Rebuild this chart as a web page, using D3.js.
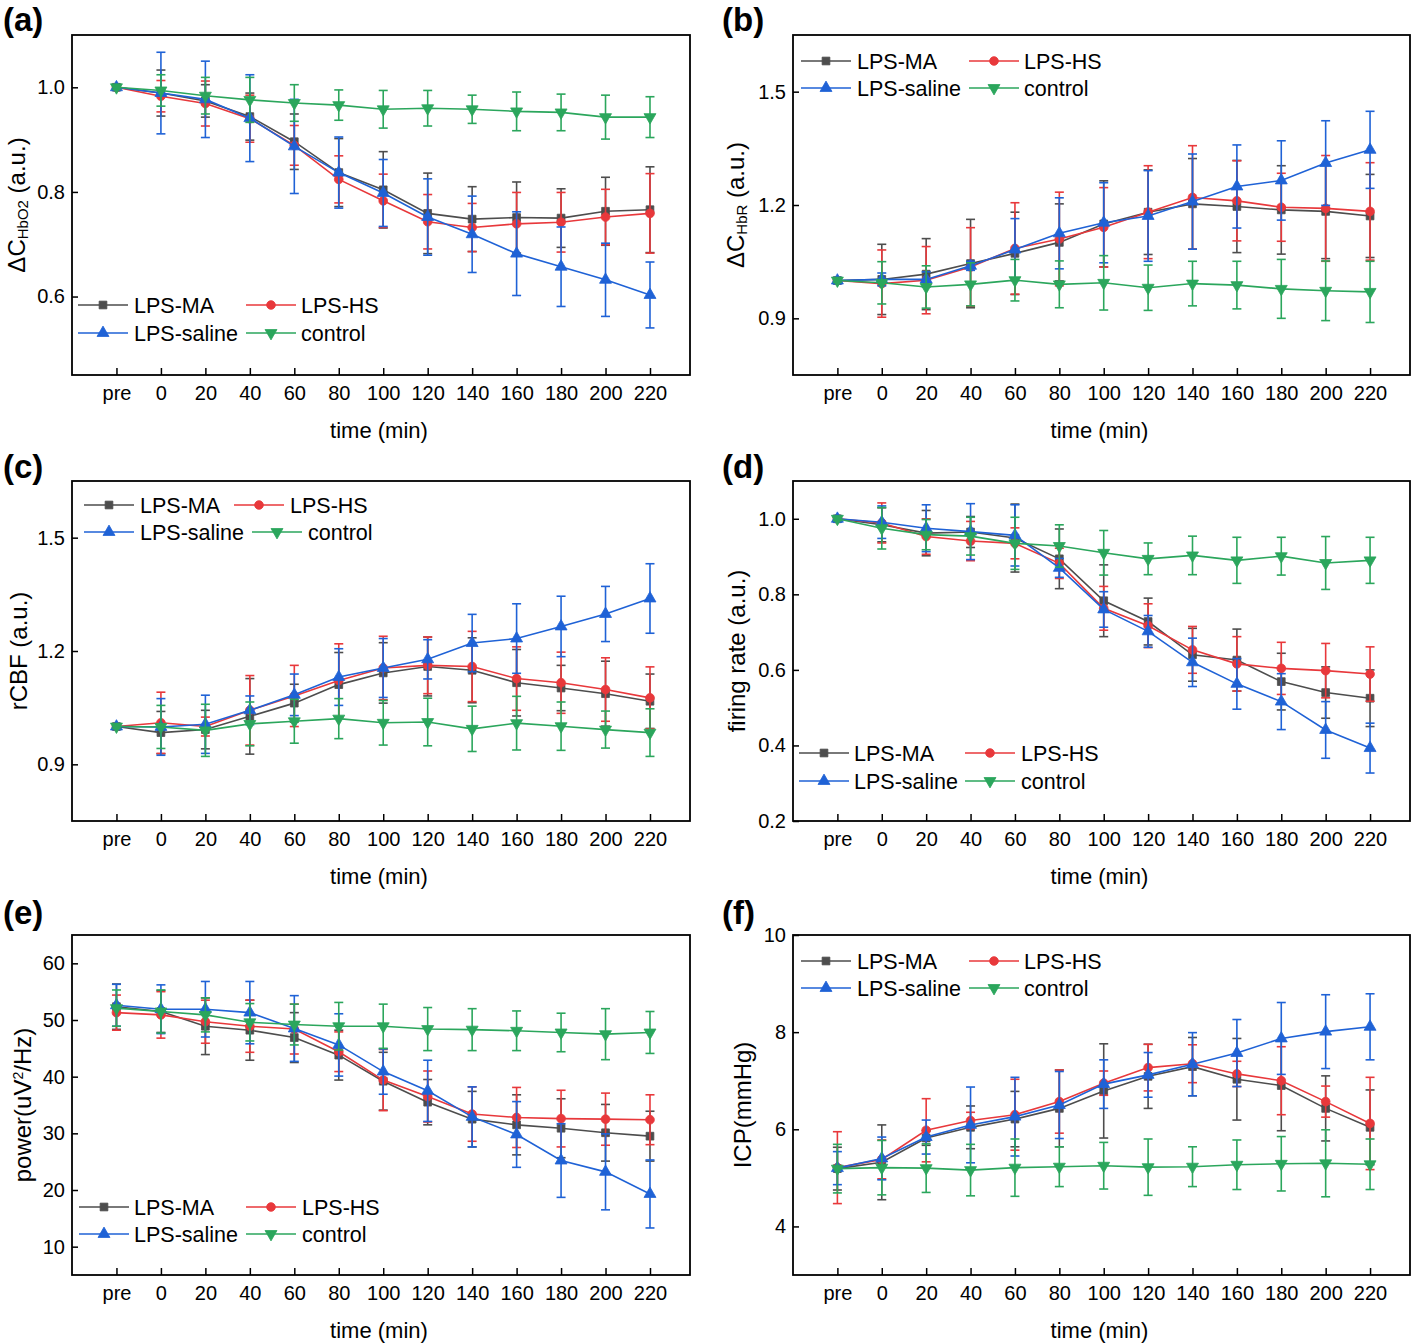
<!DOCTYPE html>
<html><head><meta charset="utf-8">
<script src="https://cdn.jsdelivr.net/npm/d3@7"></script>
<style>
body{margin:0;background:#fff;}
text{font-family:"Liberation Sans",Arial,sans-serif;fill:#000;}
</style></head>
<body><svg id="c" width="1416" height="1343"></svg>
<script>
const xLabels = ["pre","0","20","40","60","80","100","120","140","160","180","200","220"];
const seriesNames = ["LPS-MA","LPS-HS","LPS-saline","control"];

// (a) ΔC HbO2
const a_MA = [1.0,0.989,0.974,0.944,0.896,0.837,0.804,0.759,0.748,0.751,0.750,0.763,0.766];
const a_MA_sd = [0.003,0.044,0.031,0.045,0.053,0.065,0.073,0.077,0.062,0.068,0.056,0.065,0.082];
const a_HS = [1.0,0.983,0.969,0.940,0.889,0.824,0.783,0.743,0.732,0.739,0.742,0.752,0.759];
const a_HS_sd = [0.003,0.030,0.043,0.045,0.038,0.045,0.051,0.052,0.046,0.060,0.057,0.053,0.076];
const a_SAL = [1.0,0.989,0.977,0.941,0.887,0.837,0.798,0.752,0.719,0.682,0.657,0.632,0.603];
const a_SAL_sd = [0.004,0.078,0.073,0.083,0.090,0.068,0.064,0.073,0.073,0.080,0.076,0.070,0.063];
const a_CON = [1.0,0.994,0.984,0.976,0.970,0.966,0.958,0.960,0.958,0.954,0.952,0.943,0.943];
const a_CON_sd = [0.004,0.030,0.035,0.043,0.035,0.029,0.036,0.034,0.027,0.037,0.035,0.042,0.039];

// (b) ΔC HbR
const b_MA = [1.0,1.003,1.017,1.045,1.072,1.101,1.150,1.181,1.203,1.196,1.187,1.183,1.171];
const b_MA_sd = [0.005,0.093,0.094,0.117,0.109,0.102,0.114,0.112,0.120,0.122,0.117,0.125,0.110];
const b_HS = [1.0,0.992,1.001,1.036,1.085,1.110,1.141,1.181,1.220,1.211,1.194,1.191,1.183];
const b_HS_sd = [0.005,0.089,0.089,0.104,0.121,0.124,0.105,0.123,0.137,0.106,0.090,0.140,0.129];
const b_SAL = [1.0,1.003,1.003,1.039,1.082,1.125,1.153,1.171,1.209,1.249,1.265,1.311,1.346];
const b_SAL_sd = [0.008,0.017,0.020,0.012,0.082,0.094,0.106,0.120,0.126,0.110,0.105,0.112,0.102];
const b_CON = [1.0,0.994,0.983,0.990,1.001,0.990,0.994,0.981,0.992,0.988,0.978,0.973,0.970];
const b_CON_sd = [0.005,0.056,0.056,0.057,0.055,0.062,0.072,0.060,0.059,0.063,0.078,0.079,0.081];

// (c) rCBF
const c_MA = [1.0,0.984,0.992,1.027,1.062,1.111,1.142,1.159,1.149,1.116,1.102,1.087,1.067];
const c_MA_sd = [0.005,0.056,0.051,0.100,0.050,0.085,0.080,0.078,0.086,0.088,0.060,0.086,0.072];
const c_HS = [1.0,1.010,1.000,1.043,1.081,1.122,1.155,1.162,1.159,1.127,1.116,1.098,1.076];
const c_HS_sd = [0.005,0.081,0.025,0.092,0.081,0.097,0.084,0.075,0.093,0.084,0.081,0.084,0.082];
const c_SAL = [1.0,0.999,1.006,1.043,1.084,1.131,1.155,1.178,1.221,1.233,1.265,1.298,1.339];
const c_SAL_sd = [0.005,0.075,0.077,0.038,0.055,0.075,0.078,0.052,0.076,0.092,0.080,0.073,0.092];
const c_CON = [1.0,0.999,0.990,1.007,1.014,1.021,1.010,1.012,0.994,1.009,1.001,0.992,0.984];
const c_CON_sd = [0.005,0.057,0.069,0.058,0.058,0.053,0.059,0.063,0.060,0.071,0.064,0.049,0.063];

// (d) firing rate
const d_MA = [1.0,0.984,0.962,0.965,0.949,0.894,0.783,0.728,0.640,0.626,0.569,0.540,0.525];
const d_MA_sd = [0.005,0.045,0.060,0.041,0.090,0.079,0.095,0.062,0.070,0.082,0.075,0.068,0.075];
const d_HS = [1.0,0.989,0.953,0.941,0.935,0.882,0.763,0.717,0.653,0.616,0.604,0.598,0.589];
const d_HS_sd = [0.005,0.053,0.047,0.052,0.041,0.040,0.058,0.058,0.062,0.072,0.069,0.072,0.072];
const d_SAL = [1.0,0.991,0.975,0.966,0.956,0.870,0.760,0.702,0.620,0.563,0.516,0.441,0.393];
const d_SAL_sd = [0.008,0.043,0.062,0.074,0.081,0.025,0.047,0.042,0.064,0.067,0.074,0.075,0.066];
const d_CON = [1.0,0.975,0.958,0.954,0.935,0.928,0.910,0.894,0.903,0.890,0.901,0.883,0.890];
const d_CON_sd = [0.005,0.055,0.040,0.050,0.069,0.056,0.059,0.042,0.051,0.061,0.050,0.070,0.061];

// (e) power
const e_MA = [52.35,51.5,48.9,48.2,46.9,43.8,39.2,35.5,32.5,31.5,30.9,30.1,29.5];
const e_MA_sd = [4.0,3.7,5.0,5.3,4.4,4.4,5.1,4.0,4.9,5.3,5.2,5.0,4.4];
const e_HS = [51.3,50.9,49.7,48.9,48.4,44.4,39.4,36.5,33.4,32.8,32.6,32.5,32.4];
const e_HS_sd = [3.1,4.1,3.8,4.6,4.4,3.5,5.4,4.5,4.8,5.3,5.0,4.6,4.4];
const e_SAL = [52.6,51.9,51.9,51.3,48.5,45.6,40.9,37.5,32.9,29.8,25.2,23.2,19.3];
const e_SAL_sd = [3.7,4.3,4.9,5.5,5.8,5.5,4.0,5.4,5.3,5.8,6.5,6.7,6.0];
const e_CON = [52.1,51.5,50.9,49.6,49.2,48.9,48.9,48.4,48.3,48.1,47.8,47.5,47.8];
const e_CON_sd = [3.2,3.8,3.0,3.3,3.6,4.2,3.9,3.8,3.7,3.5,3.4,4.5,3.7];

// (f) ICP
const f_MA = [5.19,5.32,5.82,6.04,6.21,6.43,6.79,7.09,7.29,7.03,6.90,6.43,6.04];
const f_MA_sd = [0.44,0.77,0.15,0.44,0.57,0.79,0.97,0.66,0.60,0.84,0.93,0.67,0.77];
const f_HS = [5.21,5.38,5.98,6.18,6.30,6.57,6.95,7.27,7.35,7.14,7.00,6.57,6.12];
const f_HS_sd = [0.74,0.40,0.65,0.17,0.73,0.65,0.25,0.48,0.39,0.26,0.70,0.32,0.95];
const f_SAL = [5.20,5.40,5.84,6.09,6.26,6.50,6.93,7.12,7.34,7.57,7.87,8.01,8.11];
const f_SAL_sd = [0.34,0.44,0.35,0.78,0.81,0.69,0.50,0.46,0.65,0.69,0.74,0.76,0.68];
const f_CON = [5.19,5.21,5.20,5.16,5.21,5.23,5.25,5.22,5.23,5.27,5.29,5.30,5.28];
const f_CON_sd = [0.50,0.56,0.50,0.53,0.59,0.41,0.48,0.58,0.41,0.51,0.56,0.69,0.52];

const yTicks_a = [0.6,0.8,1.0];
const yTicks_b = [0.9,1.2,1.5];
const yTicks_c = [0.9,1.2,1.5];
const yTicks_d = [0.2,0.4,0.6,0.8,1.0];
const yTicks_e = [10,20,30,40,50,60];
const yTicks_f = [4,6,8,10];

const colors = ["#4d4d4d","#e8383b","#1f62d6","#2ba65c"];
const symbols = [d3.symbolSquare, d3.symbolCircle, d3.symbolTriangle, d3.symbolTriangle];
const symSizes = [60, 60, 62, 62];
const symRot = [0,0,0,180];

const L = 72, R = 690, L2 = 793, R2 = 1410;
const panels = [
  {lab:"(a)", lx:3, ly:31, x0:L, x1:R, y0:35, y1:375, dom:[0.45,1.1], ticks:yTicks_a, fmt:".1f",
   data:[[a_MA,a_MA_sd],[a_HS,a_HS_sd],[a_SAL,a_SAL_sd],[a_CON,a_CON_sd]],
   title:[["ΔC",24,0],["HbO2",15,3],[" (a.u.)",24,-3]], tx:25,
   leg:{c1:78,t1:134,c2:246,t2:301,c2b:246,t2b:301,r1:305,r2:333}},
  {lab:"(b)", lx:722, ly:31, x0:L2, x1:R2, y0:35, y1:375, dom:[0.75,1.65], ticks:yTicks_b, fmt:".1f",
   data:[[b_MA,b_MA_sd],[b_HS,b_HS_sd],[b_SAL,b_SAL_sd],[b_CON,b_CON_sd]],
   title:[["ΔC",24,0],["HbR",15,3],[" (a.u.)",24,-3]], tx:744,
   leg:{c1:801,t1:857,c2:969,t2:1024,c2b:969,t2b:1024,r1:61,r2:88}},
  {lab:"(c)", lx:3, ly:478, x0:L, x1:R, y0:481, y1:821, dom:[0.75,1.65], ticks:yTicks_c, fmt:".1f",
   data:[[c_MA,c_MA_sd],[c_HS,c_HS_sd],[c_SAL,c_SAL_sd],[c_CON,c_CON_sd]],
   title:[["rCBF (a.u.)",24,0]], tx:27,
   leg:{c1:84,t1:140,c2:234,t2:290,c2b:252,t2b:308,r1:505,r2:532}},
  {lab:"(d)", lx:722, ly:478, x0:L2, x1:R2, y0:481, y1:821, dom:[0.2,1.1], ticks:yTicks_d, fmt:".1f",
   data:[[d_MA,d_MA_sd],[d_HS,d_HS_sd],[d_SAL,d_SAL_sd],[d_CON,d_CON_sd]],
   title:[["firing rate (a.u.)",24,0]], tx:745,
   leg:{c1:799,t1:854,c2:965,t2:1021,c2b:965,t2b:1021,r1:753,r2:781}},
  {lab:"(e)", lx:3, ly:924, x0:L, x1:R, y0:935, y1:1275, dom:[5,65], ticks:yTicks_e, fmt:"d",
   data:[[e_MA,e_MA_sd],[e_HS,e_HS_sd],[e_SAL,e_SAL_sd],[e_CON,e_CON_sd]],
   title:[["power(uV",24,0],["2",14,-8],["/Hz)",24,8]], tx:31,
   leg:{c1:79,t1:134,c2:246,t2:302,c2b:246,t2b:302,r1:1207,r2:1234}},
  {lab:"(f)", lx:722, ly:924, x0:L2, x1:R2, y0:935, y1:1275, dom:[3,10], ticks:yTicks_f, fmt:"d",
   data:[[f_MA,f_MA_sd],[f_HS,f_HS_sd],[f_SAL,f_SAL_sd],[f_CON,f_CON_sd]],
   title:[["ICP(mmHg)",24,0]], tx:751,
   leg:{c1:801,t1:857,c2:969,t2:1024,c2b:969,t2b:1024,r1:961,r2:988}}
];

const svg = d3.select("#c");

function marker(g, i, x, y){
  g.append("path")
   .attr("d", d3.symbol().type(symbols[i]).size(symSizes[i])())
   .attr("transform", `translate(${x},${y}) rotate(${symRot[i]})`)
   .attr("fill", colors[i]).attr("stroke", colors[i]).attr("stroke-width",0.8);
}

panels.forEach(p => {
  const g = svg.append("g");
  const x = d3.scaleLinear().domain([-1, 12.9]).range([p.x0, p.x1]);
  const y = d3.scaleLinear().domain(p.dom).range([p.y1, p.y0]);

  // panel label
  svg.append("text").attr("x", p.lx).attr("y", p.ly)
    .attr("font-size", 33).attr("font-weight","bold").text(p.lab);

  // axes
  const xa = g.append("g").attr("transform", `translate(0,${p.y1})`)
    .call(d3.axisBottom(x).tickValues(d3.range(13)).tickFormat(i => xLabels[i])
      .tickSizeInner(-7).tickSizeOuter(0).tickPadding(11));
  xa.select(".domain").remove();
  xa.selectAll("line").attr("stroke","#000").attr("stroke-width",1.5);
  xa.selectAll("text").attr("font-size",20).attr("font-family",'"Liberation Sans",Arial,sans-serif');

  const ya = g.append("g").attr("transform", `translate(${p.x0},0)`)
    .call(d3.axisLeft(y).tickValues(p.ticks).tickFormat(d3.format(p.fmt))
      .tickSizeInner(-6).tickSizeOuter(0).tickPadding(7));
  ya.select(".domain").remove();
  ya.selectAll("line").attr("stroke","#000").attr("stroke-width",1.5);
  ya.selectAll("text").attr("font-size",20).attr("font-family",'"Liberation Sans",Arial,sans-serif');

  // frame
  g.append("rect").attr("x",p.x0).attr("y",p.y0).attr("width",p.x1-p.x0).attr("height",p.y1-p.y0)
    .attr("fill","none").attr("stroke","#000").attr("stroke-width",1.8);

  // x title
  g.append("text").attr("x",(p.x0+p.x1)/2 - 2).attr("y",p.y1+63)
    .attr("text-anchor","middle").attr("font-size",22).text("time (min)");

  // y title (baseline at tx)
  const yt = g.append("text")
    .attr("transform",`translate(${p.tx},${(p.y0+p.y1)/2}) rotate(-90)`)
    .attr("text-anchor","middle");
  p.title.forEach(t => {
    yt.append("tspan").attr("font-size",t[1]).attr("dy",t[2]).text(t[0]);
  });

  // series
  p.data.forEach((s, si) => {
    const vals = s[0], sd = s[1];
    const sg = g.append("g");
    vals.forEach((v, i) => {
      const cx = x(i), yt0 = y(v + sd[i]), yb0 = y(v - sd[i]);
      sg.append("line").attr("x1",cx).attr("x2",cx).attr("y1",yt0).attr("y2",yb0)
        .attr("stroke",colors[si]).attr("stroke-width",1.6);
      [yt0,yb0].forEach(yy => sg.append("line").attr("x1",cx-4.5).attr("x2",cx+4.5)
        .attr("y1",yy).attr("y2",yy).attr("stroke",colors[si]).attr("stroke-width",1.6));
    });
    sg.append("path").datum(vals)
      .attr("d", d3.line().x((d,i)=>x(i)).y(d=>y(d)))
      .attr("fill","none").attr("stroke",colors[si]).attr("stroke-width",1.6);
    vals.forEach((v,i) => marker(sg, si, x(i), y(v)));
  });

  // legend
  const lg = g.append("g");
  const items = [[0,p.leg.c1,p.leg.t1,p.leg.r1],[1,p.leg.c2,p.leg.t2,p.leg.r1],
                 [2,p.leg.c1,p.leg.t1,p.leg.r2],[3,p.leg.c2b,p.leg.t2b,p.leg.r2]];
  items.forEach(([si,cx,tx,ry]) => {
    lg.append("line").attr("x1",cx).attr("x2",cx+50).attr("y1",ry).attr("y2",ry)
      .attr("stroke",colors[si]).attr("stroke-width",1.6);
    marker(lg, si, cx+25, ry);
    lg.append("text").attr("x",tx).attr("y",ry).attr("dy","0.36em")
      .attr("font-size",21.5).text(seriesNames[si]);
  });
});
</script></body></html>
